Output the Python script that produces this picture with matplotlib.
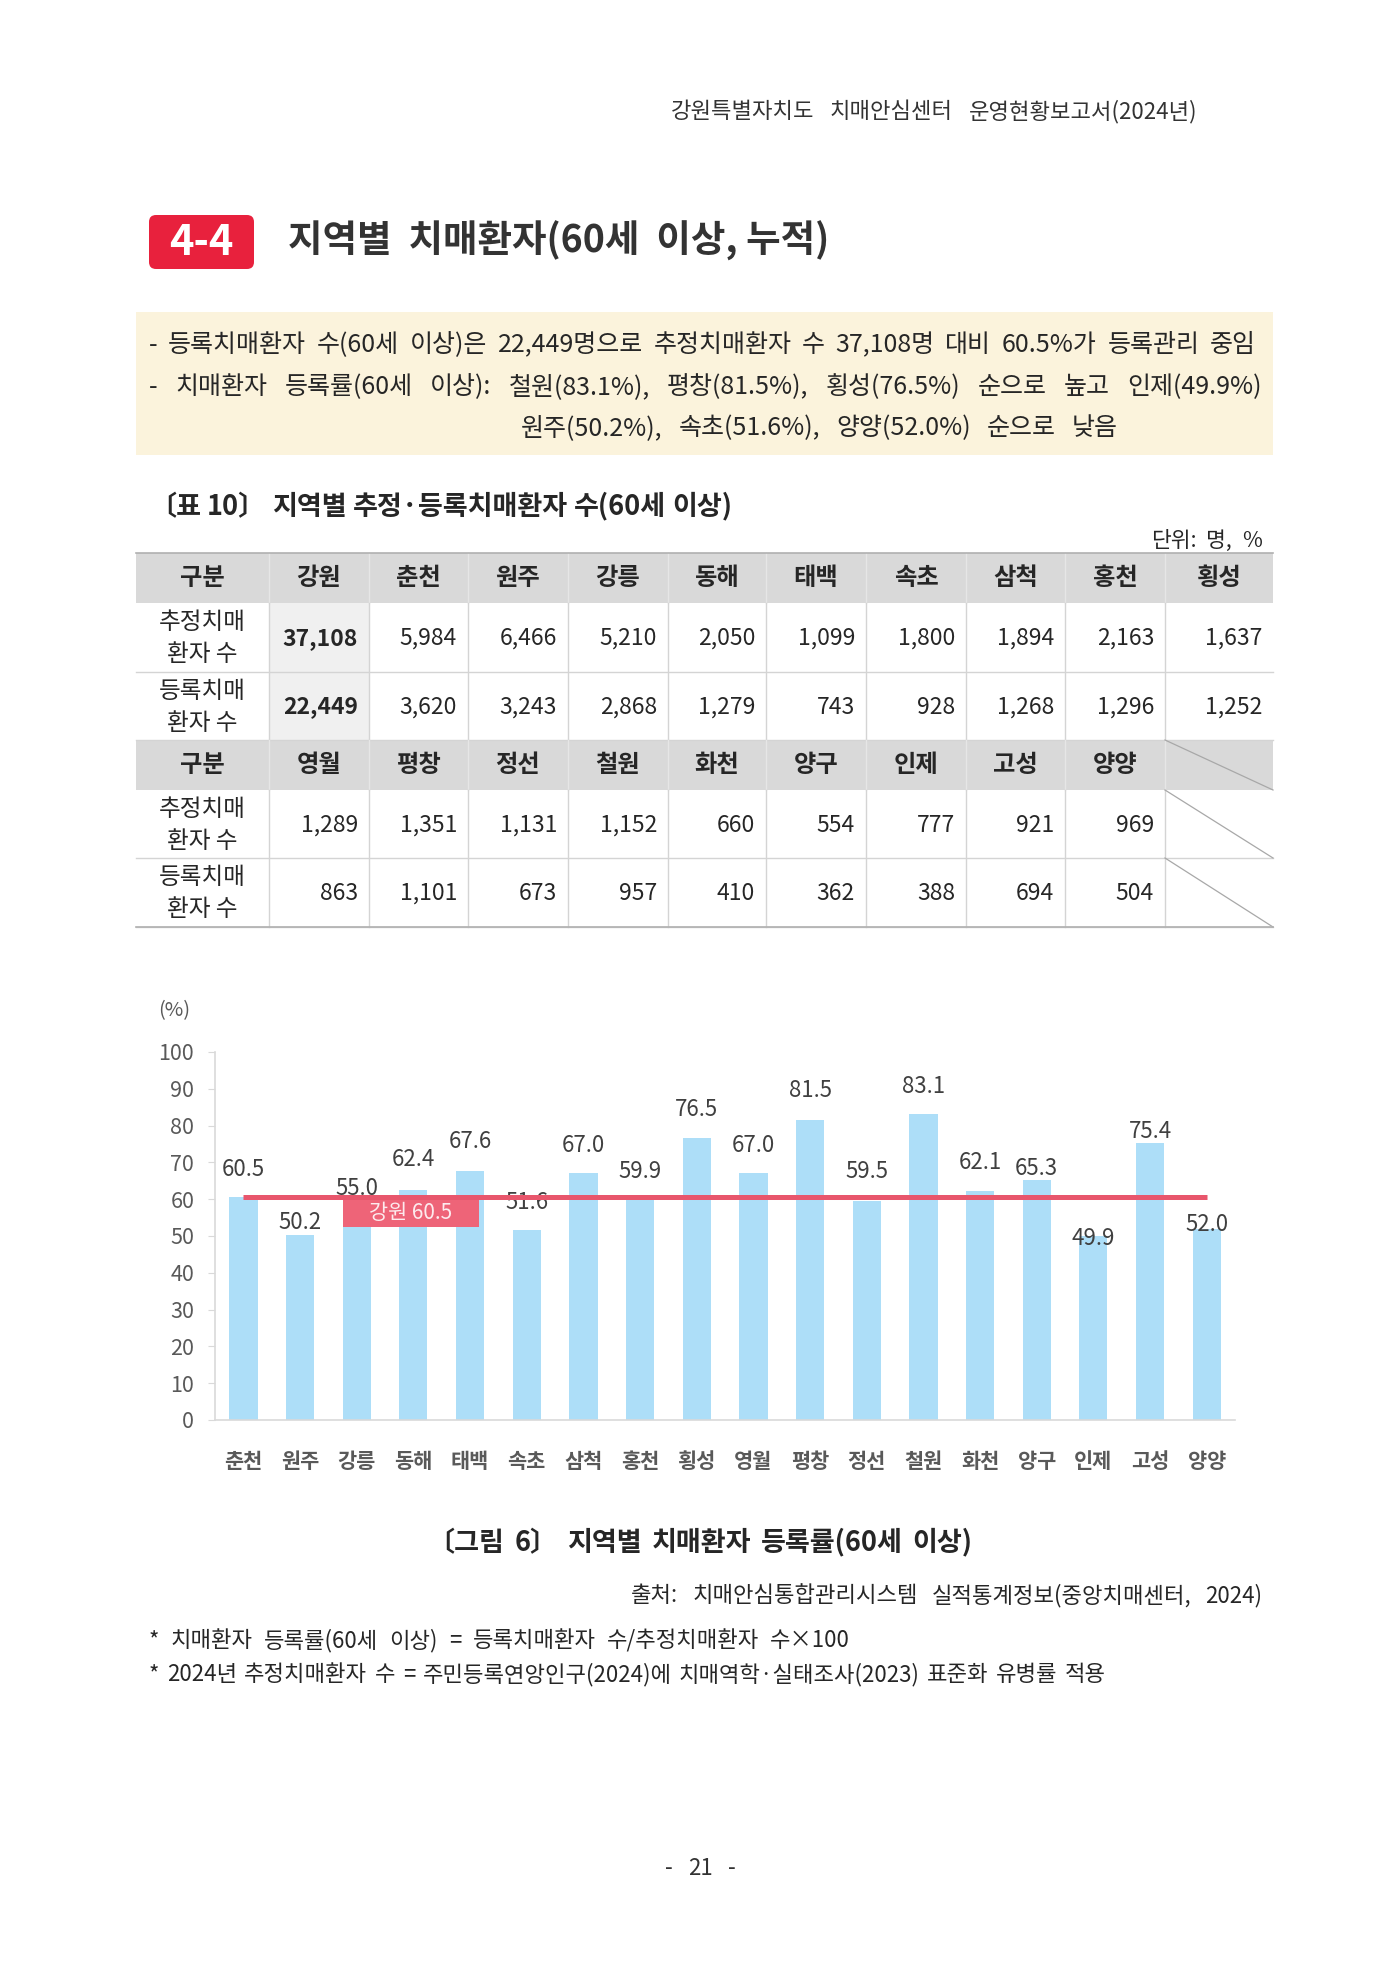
import matplotlib.pyplot as plt
from matplotlib.patches import Rectangle, FancyBboxPatch

plt.rcParams['font.family'] = ['Noto Sans CJK KR', 'DejaVu Sans']

# 표 10 데이터
table_regions_1 = ['강원', '춘천', '원주', '강릉', '동해', '태백', '속초', '삼척', '홍천', '횡성']
table_est_1 = [37108, 5984, 6466, 5210, 2050, 1099, 1800, 1894, 2163, 1637]
table_reg_1 = [22449, 3620, 3243, 2868, 1279, 743, 928, 1268, 1296, 1252]
table_regions_2 = ['영월', '평창', '정선', '철원', '화천', '양구', '인제', '고성', '양양']
table_est_2 = [1289, 1351, 1131, 1152, 660, 554, 777, 921, 969]
table_reg_2 = [863, 1101, 673, 957, 410, 362, 388, 694, 504]
row_names = ['추정치매\n환자 수', '등록치매\n환자 수']

# 그림 6 데이터
chart_regions = ['춘천', '원주', '강릉', '동해', '태백', '속초', '삼척', '홍천', '횡성',
                 '영월', '평창', '정선', '철원', '화천', '양구', '인제', '고성', '양양']
chart_rates = [60.5, 50.2, 55.0, 62.4, 67.6, 51.6, 67.0, 59.9, 76.5,
               67.0, 81.5, 59.5, 83.1, 62.1, 65.3, 49.9, 75.4, 52.0]
gangwon_rate = 60.5

# 라벨 위치 보정 (막대 위 간격, % 단위)
label_gap = [7.5, 3.5, 8, 8.5, 8, 7.5, 7.5, 7.5, 8, 7.5, 8, 8, 7.5, 8, 3, -0.5, 3, 1]

summary_lines = [
    '- 등록치매환자 수(60세 이상)은 22,449명으로 추정치매환자 수 37,108명 대비 60.5%가 등록관리 중임',
    '- 치매환자 등록률(60세 이상): 철원(83.1%), 평창(81.5%), 횡성(76.5%) 순으로 높고 인제(49.9%)',
    '원주(50.2%), 속초(51.6%), 양양(52.0%) 순으로 낮음',
]
notes = [
    '* 치매환자 등록률(60세 이상) = 등록치매환자 수/추정치매환자 수×100',
    '* 2024년 추정치매환자 수 = 주민등록연앙인구(2024)에 치매역학·실태조사(2023) 표준화 유병률 적용',
]

fig = plt.figure(figsize=(14, 19.8), dpi=100)
page = fig.add_axes([0, 0, 1, 1])
page.set_xlim(0, 1400)
page.set_ylim(1980, 0)
page.axis('off')
renderer = fig.canvas.get_renderer()

txt = '#262626'


def spaced_text(x, y, s, width, ha='left', fontsize=15, **kw):
    # 한글 문서처럼 단어 사이 간격을 벌려 주어진 폭에 맞춘다
    words = s.split(' ')
    base = y + 0.36 * fontsize * 100 / 72
    objs = [page.text(0, base, w, ha='left', va='baseline', fontsize=fontsize, **kw) for w in words]
    ws = [o.get_window_extent(renderer).width for o in objs]
    gap = (width - sum(ws)) / max(len(words) - 1, 1)
    if ha == 'right':
        start = x - width
    elif ha == 'center':
        start = x - width / 2
    else:
        start = x
    for o, w in zip(objs, ws):
        o.set_x(start)
        start += w + gap


# 머리글
spaced_text(1197, 110, '강원특별자치도 치매안심센터 운영현황보고서(2024년)', 526, ha='right',
            fontsize=16, color='#333333')

# 제목
page.add_patch(FancyBboxPatch((149, 215), 105, 54, boxstyle='round,pad=0,rounding_size=7',
                              facecolor='#E8213D', edgecolor='none'))
page.text(201, 243, '4-4', ha='center', va='center', fontsize=30, color='white', weight='bold')
page.text(288, 241, '지역별  치매환자(60세  이상, 누적)', ha='left', va='center',
          fontsize=27, color='#333333', weight='bold')

# 요약 박스
page.add_patch(Rectangle((136, 312), 1137, 143, facecolor='#FBF3DC', edgecolor='none'))
spaced_text(149, 343, summary_lines[0], 1107, fontsize=18, color=txt)
spaced_text(149, 385, summary_lines[1], 1113, fontsize=18, color=txt)
spaced_text(521, 426, summary_lines[2], 597, fontsize=18, color=txt)

# 표 제목
spaced_text(149, 505, '〔표 10〕 지역별 추정·등록치매환자 수(60세 이상)', 583, fontsize=19.5,
            color=txt, weight='bold')
spaced_text(1262, 539, '단위: 명, %', 111, ha='right', fontsize=15.5, color=txt)

col_x = [136, 269, 369, 468, 568, 668, 766, 866, 966, 1065, 1165, 1273]
row_y = [553, 603, 672, 740, 790, 858, 927]
head_bg = '#D9D9D9'
line_c = '#D4D4D4'


def draw_block(top, names, est, reg):
    y0, y1, y2, y3 = row_y[top], row_y[top + 1], row_y[top + 2], row_y[top + 3]
    # 헤더
    page.add_patch(Rectangle((col_x[0], y0), col_x[-1] - col_x[0], y1 - y0,
                             facecolor=head_bg, edgecolor='none'))
    page.text((col_x[0] + col_x[1]) / 2, (y0 + y1) / 2, '구분', ha='center', va='center',
              fontsize=17.5, weight='bold', color=txt)
    for i, nm in enumerate(names):
        cx = (col_x[i + 1] + col_x[i + 2]) / 2
        page.text(cx, (y0 + y1) / 2, nm, ha='center', va='center', fontsize=17.5,
                  weight='bold', color=txt)
    # 데이터 행
    for r, (vals, ya, yb) in enumerate([(est, y1, y2), (reg, y2, y3)]):
        page.text((col_x[0] + col_x[1]) / 2, (ya + yb) / 2 + 1, row_names[r], ha='center',
                  va='center', fontsize=17, color=txt, linespacing=1.5)
        for i, v in enumerate(vals):
            bold = (top == 0 and i == 0)
            if bold:
                page.add_patch(Rectangle((col_x[1], ya), col_x[2] - col_x[1], yb - ya,
                                         facecolor='#F0F0F0', edgecolor='none'))
            page.text(col_x[i + 2] - 11, (ya + yb) / 2 + 1, f'{v:,}', ha='right', va='center',
                      fontsize=16.5, color=txt, weight='bold' if bold else 'normal')
        page.plot([col_x[0], col_x[-1]], [yb, yb], color=line_c, lw=1)
    # 세로선
    for x in col_x[1:-1]:
        page.plot([x, x], [y0, y1], color='#E6E6E6', lw=1)
        page.plot([x, x], [y1, y3], color=line_c, lw=1)
    # 빈 칸 대각선
    if len(names) < len(col_x) - 2:
        for ya, yb in [(y0, y1), (y1, y2), (y2, y3)]:
            page.plot([col_x[-2], col_x[-1]], [ya, yb], color='#A8A8A8', lw=0.9)


draw_block(0, table_regions_1, table_est_1, table_reg_1)
draw_block(3, table_regions_2, table_est_2, table_reg_2)
page.plot([col_x[0], col_x[-1]], [row_y[0], row_y[0]], color='#B0B0B0', lw=1.2)
page.plot([col_x[0], col_x[-1]], [row_y[-1], row_y[-1]], color='#B0B0B0', lw=1.2)

# 그림 6 차트
ax = fig.add_axes([215 / 1400, 560 / 1980, 1020 / 1400, 368 / 1980])
xs = list(range(len(chart_regions)))
ax.bar(xs, chart_rates, width=0.5, color='#ADDEF8', zorder=1)
ax.set_xlim(-0.5, 17.5)
ax.set_ylim(0, 100)
ax.set_yticks(range(0, 101, 10))
ax.set_xticks(xs)
ax.set_xticklabels(chart_regions, fontsize=15, color='#595959', weight='bold')
ax.tick_params(axis='x', length=0, pad=22)
ax.tick_params(axis='y', length=5, color='#D9D9D9', labelsize=15.5, labelcolor='#595959', pad=10)
for s in ['top', 'right']:
    ax.spines[s].set_visible(False)
for s in ['left', 'bottom']:
    ax.spines[s].set_color('#D9D9D9')
    ax.spines[s].set_linewidth(1.2)
ax.patch.set_alpha(0)

for i, v in enumerate(chart_rates):
    ax.text(i, v + label_gap[i], f'{v:.1f}', ha='center', va='center', fontsize=16,
            color='#404040', zorder=3)

ax.plot([0, len(chart_regions) - 1], [gangwon_rate, gangwon_rate], color='#E8566C', lw=3.6,
        solid_capstyle='butt', zorder=4)
ax.add_patch(Rectangle((1.75, 52.4), 2.41, gangwon_rate - 52.4 - 0.6, facecolor='#EE6478',
                       edgecolor='none', zorder=5))
ax.text(1.75 + 2.41 / 2, 56.2, f'강원 {gangwon_rate}', ha='center', va='center', fontsize=15,
        color='#FDEBEE', zorder=6)

page.text(174, 1011, '(%)', ha='center', va='center', fontsize=14.5, color='#595959')

# 그림 제목 / 출처 / 주석
spaced_text(700, 1541, '〔그림 6〕 지역별 치매환자 등록률(60세 이상)', 545, ha='center',
            fontsize=19.5, weight='bold', color=txt)
spaced_text(1262, 1594, '출처: 치매안심통합관리시스템 실적통계정보(중앙치매센터, 2024)', 631,
            ha='right', fontsize=16, color=txt)
spaced_text(149, 1639, notes[0], 701, fontsize=16, color=txt)
spaced_text(149, 1673, notes[1], 957, fontsize=16, color=txt)

spaced_text(700, 1867, '- 21 -', 71, ha='center', fontsize=16, color='#333333')

fig.savefig('out.png', dpi=100)
